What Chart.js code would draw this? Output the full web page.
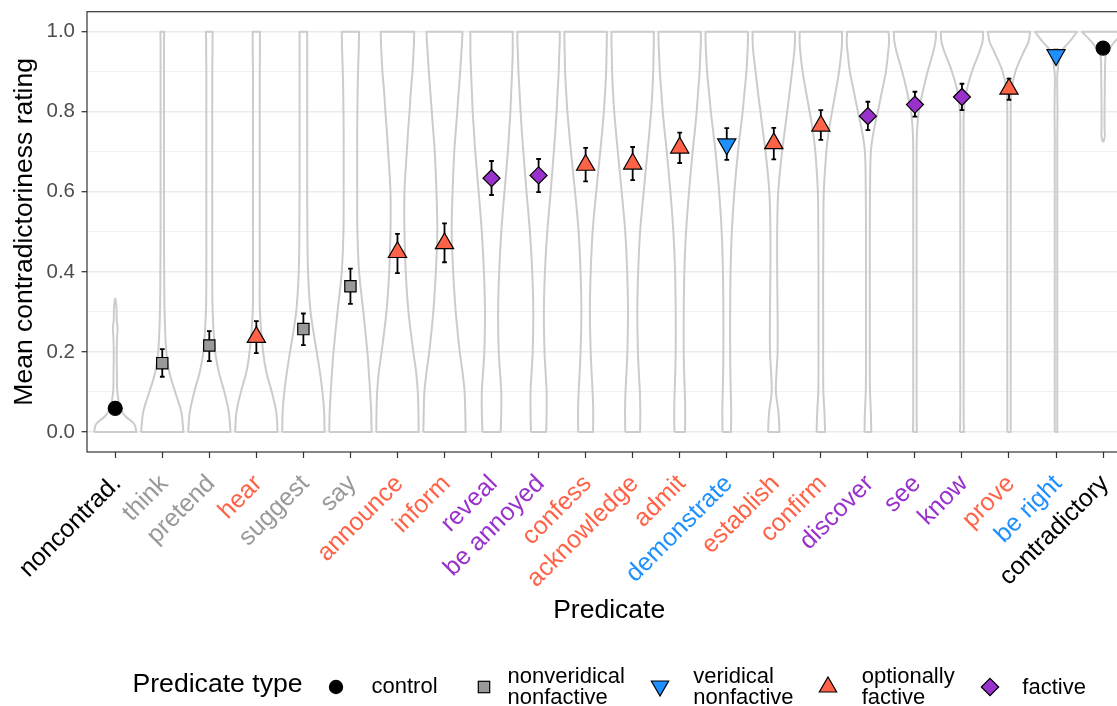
<!DOCTYPE html>
<html>
<head>
<meta charset="utf-8">
<script src="https://cdn.jsdelivr.net/npm/chart.js@4.4.1/dist/chart.umd.min.js"></script>
<style>
  body { margin: 0; background: #fff; }
  #wrap { position: relative; width: 1117px; height: 706px; overflow: hidden; font-family: "Liberation Sans", Arial, sans-serif; }
  #chart { position: absolute; left: 0; top: 0; }
  .lg { position: absolute; white-space: nowrap; color: #000; }
  .lab { font-size: 22px; line-height: 21px; }
  .sym { position: absolute; }
</style>
</head>
<body>
<div id="wrap">
  <canvas id="chart" width="1143" height="706"></canvas>
  <div class="lg" style="left:132.5px; top:670px; font-size:26.6px; line-height:26.6px;">Predicate type</div>
  <svg class="sym" style="left:326px; top:677px;" width="20" height="20"><circle cx="10" cy="10" r="7.2" fill="#000"/></svg>
  <div class="lg lab" style="left:371.5px; top:675px;">control</div>
  <svg class="sym" style="left:474px; top:677px;" width="20" height="20"><rect x="4.3" y="4.3" width="11.4" height="11.4" fill="#999999" stroke="#000" stroke-width="1.2"/></svg>
  <div class="lg lab" style="left:507.5px; top:664.5px;">nonveridical<br>nonfactive</div>
  <svg class="sym" style="left:647.7px; top:673.6px;" width="24" height="24"><polygon points="12,22 3.34,7 20.66,7" fill="#1E90FF" stroke="#000" stroke-width="1.2"/></svg>
  <div class="lg lab" style="left:693.3px; top:664.5px;">veridical<br>nonfactive</div>
  <svg class="sym" style="left:815.8px; top:674.6px;" width="24" height="24"><polygon points="12,2 20.66,17 3.34,17" fill="#FF6347" stroke="#000" stroke-width="1.2"/></svg>
  <div class="lg lab" style="left:861.7px; top:664.5px;">optionally<br>factive</div>
  <svg class="sym" style="left:978px; top:674.5px;" width="24" height="24"><polygon points="12,3.3 20.7,12 12,20.7 3.3,12" fill="#9932CC" stroke="#000" stroke-width="1.2"/></svg>
  <div class="lg lab" style="left:1022.3px; top:675.5px;">factive</div>
</div>
<script>
// predicates, sorted by mean rating
const categories = ['noncontrad.', 'think', 'pretend', 'hear', 'suggest', 'say', 'announce', 'inform',
  'reveal', 'be annoyed', 'confess', 'acknowledge', 'admit', 'demonstrate', 'establish', 'confirm',
  'discover', 'see', 'know', 'prove', 'be right', 'contradictory'];

// 0 control, 1 nonveridical nonfactive, 2 veridical nonfactive, 3 optionally factive, 4 factive
const categoryType = [0, 1, 1, 3, 1, 1, 3, 3, 4, 4, 3, 3, 3, 2, 3, 3, 4, 4, 4, 3, 2, 0];
const typeNames = ['control', 'nonveridical nonfactive', 'veridical nonfactive', 'optionally factive', 'factive'];
const typeColors = ['#000000', '#999999', '#1E90FF', '#FF6347', '#9932CC'];

const meanRating = [0.059, 0.172, 0.216, 0.237, 0.257, 0.364, 0.449, 0.471, 0.634, 0.641, 0.667,
  0.670, 0.710, 0.719, 0.721, 0.765, 0.789, 0.818, 0.837, 0.857, 0.942, 0.959];
const ciLow = [0.050, 0.138, 0.177, 0.197, 0.217, 0.320, 0.397, 0.424, 0.592, 0.599, 0.626,
  0.629, 0.672, 0.680, 0.681, 0.730, 0.754, 0.788, 0.804, 0.830, 0.928, 0.950];
const ciHigh = [0.068, 0.207, 0.252, 0.277, 0.296, 0.408, 0.495, 0.521, 0.677, 0.682, 0.710,
  0.712, 0.748, 0.759, 0.760, 0.804, 0.825, 0.850, 0.870, 0.883, 0.955, 0.968];

const yGridValues = [0, 0.1, 0.2, 0.3, 0.4, 0.5, 0.6, 0.7, 0.8, 0.9, 1.0];

// violin outlines: rating levels and relative density (1 = widest)
const ratingLevels = [0, 0.05, 0.1, 0.15, 0.2, 0.3, 0.4, 0.5, 0.6, 0.7, 0.75, 0.8, 0.85, 0.9, 0.95, 0.975, 1];
const noncontradLevels = [0, 0.02, 0.04, 0.06, 0.1, 0.15, 0.2, 0.24, 0.26, 0.28, 0.31, 0.333];
const contradictoryLevels = [0.725, 0.74, 0.76, 0.8, 0.85, 0.9, 0.94, 0.95, 0.975, 1];

const violinDensity = [
  [1, .9, .47, .24, .1, .08, .07, .09, .11, .07, .06, .01],                          // noncontrad.
  [1, .9, .61, .33, .19, .11, .09, .08, .08, .08, .08, .08, .08, .08, .08, .08, .09],   // think
  [1, .92, .71, .45, .28, .16, .14, .14, .14, .14, .14, .14, .14, .14, .15, .15, .16],  // pretend
  [1, .94, .73, .47, .32, .17, .16, .16, .16, .16, .16, .16, .16, .16, .17, .17, .17],  // hear
  [1, .98, .9, .78, .63, .34, .22, .19, .18, .18, .18, .18, .18, .18, .18, .18, .18],   // suggest
  [1, .98, .93, .87, .8, .61, .41, .33, .32, .32, .32, .33, .34, .36, .39, .4, .41],    // say
  [1, .99, .96, .88, .75, .52, .39, .33, .33, .44, .5, .57, .63, .71, .76, .78, .79],   // announce
  [1, .98, .95, .85, .72, .53, .41, .34, .38, .46, .53, .6, .67, .74, .8, .83, .85],    // inform
  [.43, .46, .46, .4, .34, .31, .36, .46, .61, .77, .83, .89, .93, .97, 1, 1, 1],      // reveal
  [.36, .38, .38, .33, .28, .25, .3, .41, .57, .72, .79, .85, .9, .95, .98, 1, 1],     // be annoyed
  [.35, .36, .33, .28, .24, .2, .24, .33, .5, .69, .78, .86, .92, .97, .99, 1, 1],     // confess
  [.35, .36, .34, .29, .25, .22, .26, .35, .52, .7, .79, .87, .93, .97, .99, 1, 1],    // acknowledge
  [.25, .26, .24, .21, .19, .19, .22, .3, .44, .61, .71, .8, .87, .94, .98, 1, 1],     // admit
  [.2, .21, .19, .17, .16, .16, .18, .24, .36, .53, .64, .75, .84, .93, .98, 1, 1],    // demonstrate
  [.27, .22, .1, .13, .18, .18, .16, .16, .21, .39, .51, .63, .75, .86, .97, 1, 1],    // establish
  [.2, .17, .12, .11, .11, .11, .11, .12, .14, .26, .37, .53, .7, .86, .97, 1, 1],     // confirm
  [.16, .14, .1, .09, .09, .09, .09, .09, .1, .14, .27, .47, .66, .85, .96, 1, .98],   // discover
  [.09, .08, .08, .08, .08, .08, .08, .08, .08, .08, .1, .18, .37, .6, .87, .97, 1],   // see
  [.09, .08, .08, .08, .08, .08, .08, .08, .08, .08, .08, .09, .21, .47, .83, .97, 1], // know
  [.08, .08, .08, .08, .08, .08, .08, .08, .08, .08, .08, .08, .11, .3, .7, .92, 1],   // prove
  [.06, .06, .06, .06, .06, .06, .06, .06, .06, .06, .06, .07, .06, .07, .25, .64, 1], // be right
  [.02, .08, .07, .07, .08, .09, .12, .2, .55, 1]                                      // contradictory
];

const FONT = '"Liberation Sans", Arial, sans-serif';
const VIOLIN_HALF = 0.45;
const CAP_HALF = 0.05;

function levelsFor(i) {
  if (i === 0) return noncontradLevels;
  if (i === categories.length - 1) return contradictoryLevels;
  return ratingLevels;
}

// closed outline: bottom edge, right side up, top edge, left side down
function violinOutline(i) {
  const lv = levelsFor(i);
  const hw = violinDensity[i].map(d => d * VIOLIN_HALF);
  const x = i + 1;
  const n = lv.length;
  const pts = [];
  pts.push({x: x - hw[0], y: lv[0]}, {x: x - hw[0], y: lv[0]});
  pts.push({x: x + hw[0], y: lv[0]}, {x: x + hw[0], y: lv[0]});
  for (let k = 1; k < n - 1; k++) pts.push({x: x + hw[k], y: lv[k]});
  pts.push({x: x + hw[n - 1], y: lv[n - 1]}, {x: x + hw[n - 1], y: lv[n - 1]});
  pts.push({x: x - hw[n - 1], y: lv[n - 1]}, {x: x - hw[n - 1], y: lv[n - 1]});
  for (let k = n - 2; k >= 1; k--) pts.push({x: x - hw[k], y: lv[k]});
  pts.push({x: x - hw[0], y: lv[0]});
  return pts;
}

const violinSets = categories.map((c, i) => ({
  label: 'violin ' + c,
  data: violinOutline(i),
  showLine: true,
  fill: false,
  borderColor: '#CCCCCC',
  borderWidth: 2,
  borderJoinStyle: 'round',
  tension: 0.35,
  pointRadius: 0,
  order: 2
}));

const errorData = [];
categories.forEach((c, i) => {
  const x = i + 1;
  errorData.push({x: x - CAP_HALF, y: ciHigh[i]}, {x: x + CAP_HALF, y: ciHigh[i]}, {x: x, y: null});
  errorData.push({x: x, y: ciHigh[i]}, {x: x, y: ciLow[i]}, {x: x, y: null});
  errorData.push({x: x - CAP_HALF, y: ciLow[i]}, {x: x + CAP_HALF, y: ciLow[i]}, {x: x, y: null});
});

const errorSet = {
  label: 'CI',
  data: errorData,
  showLine: true,
  spanGaps: false,
  fill: false,
  borderColor: '#000000',
  borderWidth: 1.8,
  tension: 0,
  pointRadius: 0,
  order: 1
};

const shapeStyle = ['circle', 'rect', 'triangle', 'triangle', 'rectRot'];
const shapeRotation = [0, 0, 180, 0, 0];
const shapeRadius = [7, 8, 10.5, 10.5, 8.5];

const pointSets = typeNames.map((t, k) => ({
  label: t,
  data: categories.map((c, i) => ({x: i + 1, y: meanRating[i]})).filter((p, i) => categoryType[i] === k),
  showLine: false,
  pointStyle: shapeStyle[k],
  rotation: shapeRotation[k],
  pointRadius: shapeRadius[k],
  pointBackgroundColor: typeColors[k],
  pointBorderColor: '#000000',
  pointBorderWidth: 1.2,
  order: 0
}));

const panelBorder = {
  id: 'panelBorder',
  afterDraw(chart) {
    const a = chart.chartArea, ctx = chart.ctx;
    ctx.save();
    ctx.strokeStyle = '#333333';
    ctx.lineWidth = 1.2;
    ctx.strokeRect(a.left, a.top, a.right - a.left, a.bottom - a.top);
    ctx.restore();
  }
};

const isMajor = v => Math.round(v * 10) % 2 === 0;

new Chart(document.getElementById('chart').getContext('2d'), {
  type: 'scatter',
  data: { datasets: [...pointSets, errorSet, ...violinSets] },
  options: {
    responsive: false,
    animation: false,
    devicePixelRatio: 1,
    events: [],
    layout: { padding: { top: 11, bottom: 82, left: 0, right: 0 } },
    plugins: { legend: { display: false }, tooltip: { enabled: false } },
    scales: {
      x: {
        type: 'linear',
        min: 0.4,
        max: 22.6,
        afterBuildTicks: s => { s.ticks = categories.map((c, i) => ({value: i + 1})); },
        afterFit: s => { s.height = 172; s.paddingLeft = 0; s.paddingRight = 0; },
        border: { display: false },
        grid: { drawOnChartArea: false, drawTicks: true, tickLength: 6, tickWidth: 1.2, tickColor: '#333333' },
        ticks: {
          autoSkip: false,
          minRotation: 45,
          maxRotation: 45,
          padding: 13,
          labelOffset: 2,
          font: { family: FONT, size: 25, lineHeight: 1 },
          color: ctx => typeColors[categoryType[ctx.index]],
          callback: v => categories[Math.round(v) - 1]
        },
        title: {
          display: true, text: 'Predicate', color: '#000000',
          font: { family: FONT, size: 26.5, lineHeight: 1 },
          padding: { top: 0, bottom: 0 }
        }
      },
      y: {
        min: -0.05,
        max: 1.05,
        afterBuildTicks: s => { s.ticks = yGridValues.map(v => ({value: v})); },
        afterFit: s => { s.width = 87; s.paddingTop = 0; s.paddingBottom = 0; },
        border: { display: false },
        grid: {
          color: '#EBEBEB',
          lineWidth: ctx => isMajor(ctx.tick.value) ? 1.4 : 0.7,
          tickLength: 5.5,
          tickWidth: 1.2,
          tickColor: ctx => isMajor(ctx.tick.value) ? '#333333' : 'rgba(0,0,0,0)'
        },
        ticks: {
          padding: 6.5,
          color: '#4D4D4D',
          font: { family: FONT, size: 20.5 },
          callback: v => isMajor(v) ? v.toFixed(1) : ''
        },
        title: {
          display: true, text: 'Mean contradictoriness rating', color: '#000000',
          font: { family: FONT, size: 26.5, lineHeight: 1 },
          padding: { top: 11, bottom: 0 }
        }
      }
    }
  },
  plugins: [panelBorder]
});
</script>
</body>
</html>
